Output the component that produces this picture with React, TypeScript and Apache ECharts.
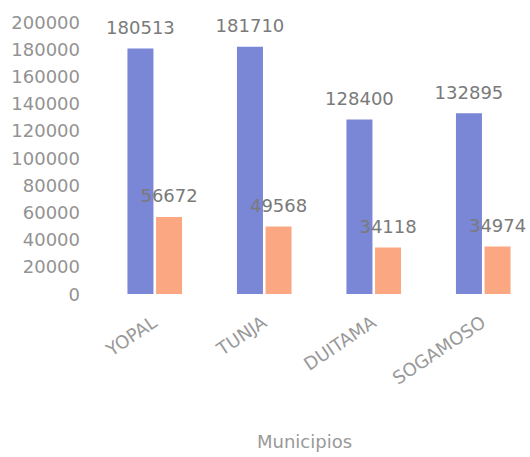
import React, { useEffect, useRef } from "react";
import * as echarts from "echarts";

const categories = ["YOPAL", "TUNJA", "DUITAMA", "SOGAMOSO"];
const seriesA = [180513, 181710, 128400, 132895];
const seriesB = [56672, 49568, 34118, 34974];
const axisTitle = "Municipios";
const yMin = 0;
const yMax = 200000;
const yInterval = 20000;

export default function App() {
  const ref = useRef<HTMLDivElement>(null);
  useEffect(() => {
    if (!ref.current) return;
    const chart = echarts.init(ref.current, undefined, { renderer: "svg" });
    const font = "DejaVu Sans";
    const labelCfg = {
      show: true,
      position: "top" as const,
      distance: 12,
      color: "#7a7a7a",
      fontSize: 18,
      fontFamily: font,
    };
    chart.setOption({
      animation: false,
      backgroundColor: "#ffffff",
      grid: {
        left: 100,
        width: 438,
        top: 22,
        bottom: 163,
        containLabel: false,
        outerBoundsMode: "none",
      },
      xAxis: {
        type: "category",
        data: categories,
        axisLine: { show: false },
        axisTick: { show: false },
        axisLabel: {
          rotate: 34,
          margin: 26,
          color: "#999999",
          fontSize: 18,
          fontFamily: font,
        },
      },
      yAxis: {
        type: "value",
        min: yMin,
        max: yMax,
        interval: yInterval,
        splitLine: { show: false },
        axisLine: { show: false },
        axisTick: { show: false },
        axisLabel: {
          margin: 20,
          color: "#939393",
          fontSize: 18,
          fontFamily: font,
          formatter: (v: number) => String(v),
        },
      },
      graphic: [
        {
          type: "text",
          left: 257,
          top: 432,
          style: {
            text: axisTitle,
            fill: "#999999",
            fontSize: 18,
            fontFamily: font,
          },
        },
      ],
      series: [
        {
          type: "bar",
          data: seriesA,
          barWidth: 26,
          barGap: "10%",
          itemStyle: { color: "#7a86d6" },
          label: labelCfg,
        },
        {
          type: "bar",
          data: seriesB,
          barWidth: 26,
          barGap: "10%",
          itemStyle: { color: "#fba882" },
          label: labelCfg,
        },
      ],
    });
    return () => chart.dispose();
  }, []);
  return (
    <div
      ref={ref}
      style={{ position: "fixed", left: 0, top: 0, width: 530, height: 457 }}
    />
  );
}
